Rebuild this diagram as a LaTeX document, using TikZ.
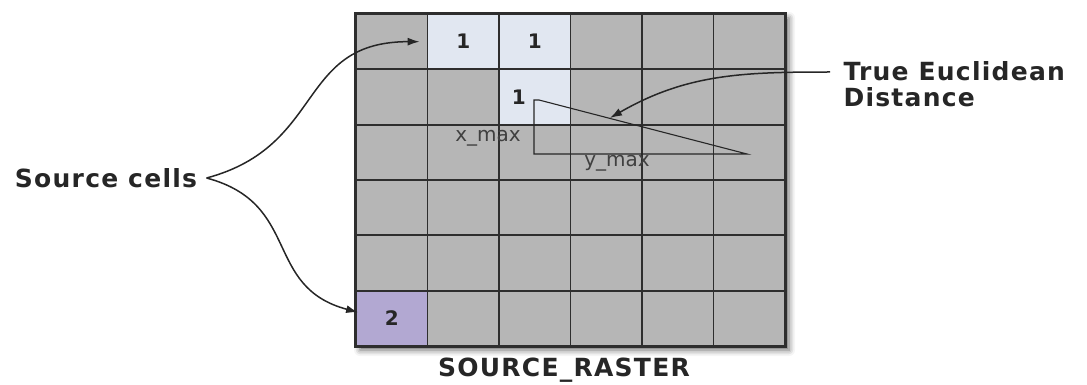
\documentclass[tikz,border=0pt]{standalone}
\usepackage{fontspec}
\setmainfont{DejaVu Sans}
\usetikzlibrary{arrows.meta,positioning,shadows.blur}
\definecolor{cellgray}{HTML}{B6B6B6}
\definecolor{srcblue}{HTML}{E1E7F1}
\definecolor{srcpurple}{HTML}{B2A8D2}
\definecolor{linegray}{HTML}{2E2E2E}
\tikzstyle{cell}=[rectangle,draw=linegray,line width=1.8pt,fill=cellgray,minimum width=71.5pt,minimum height=55.3pt,inner sep=0pt,font=\fontsize{20}{20}\selectfont\bfseries,text=black!85]
\tikzstyle{lbl}=[font=\fontsize{25}{26}\selectfont\bfseries\addfontfeatures{LetterSpace=5},align=left,text=black!85]
\tikzstyle{axis}=[font=\fontsize{20}{20}\selectfont,text=black!75,inner sep=1pt]
\tikzstyle{arr}=[-{Latex[length=12pt,width=8pt]},line width=1.5pt,black!85]

\begin{document}
\begin{tikzpicture}[x=1pt,y=-1pt]
\useasboundingbox (0,0) rectangle (1087,385);
% raster and its shadow
\fill[cellgray,blur shadow={shadow xshift=4pt,shadow yshift=-4pt,shadow blur radius=6pt,shadow opacity=60}] (356,14) rectangle (785,346);
\foreach \r in {1,...,6}
  \foreach \c in {1,...,6}
    \node[cell] (c-\r-\c) at ({356+71.5*(\c-0.5)},{14+55.33*(\r-0.5)}) {};
% source cells
\node[cell,fill=srcblue] (s1) at (c-1-2) {1};
\node[cell,fill=srcblue] (s2) at (c-1-3) {1};
\node[cell,fill=srcblue] (s3) at (c-2-3) {};
\node[cell,fill=srcpurple] (s4) at (c-6-1) {2};
\node[cell,draw=none,fill=none,minimum size=0pt] (one) at ([xshift=-16pt]s3.center) {1};
\draw[linegray,line width=2.2pt] (c-1-1.north west) rectangle (c-6-6.south east);
% distance triangle
\coordinate (tv) at (534,100);
\coordinate (tb) at (534,154);
\coordinate (tr) at (747,154);
\coordinate (hyp) at (610,118);
\draw[line width=1.1pt,black!85] (tv) -- ++(5,0) -- (tr) -- (tb) -- cycle;
\node[axis] (xmax) at (488,138) {x\_max};
\node[axis] (ymax) at (617,163) {y\_max};
% labels
\node[lbl] (src) at (106,178) {Source cells};
\node[lbl,anchor=west] (ted) at (840,84) {True Euclidean\\Distance};
\node[lbl] (rast) at (564,370) {SOURCE\_RASTER};
\draw[arr] ([xshift=6pt]src.east) to[out=15,in=180,looseness=1.25] ([xshift=-7pt]s1.west);
\draw[arr] ([xshift=6pt]src.east) to[out=-15,in=165,looseness=1.25] ([xshift=3pt,yshift=6pt]s4.west);
\draw[arr] ([xshift=-10pt,yshift=12pt]ted.west) to[out=180,in=30] (hyp);
\end{tikzpicture}
\end{document}
